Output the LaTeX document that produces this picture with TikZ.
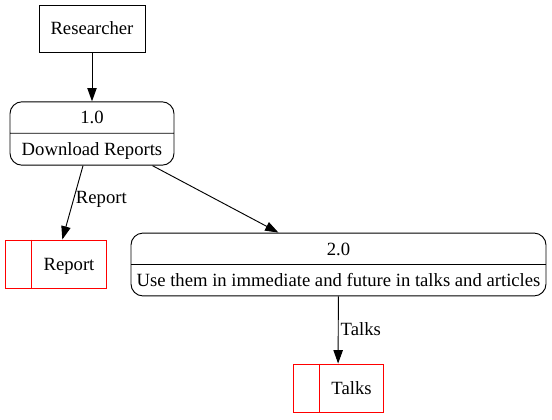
\documentclass[tikz,border=0pt]{standalone}
\usepackage{fontspec}
\setmainfont{Liberation Serif}
\usepackage{tikz}
\usetikzlibrary{shapes.multipart,arrows.meta}

\newcommand{\boxstrut}{\rule[-2.6pt]{0pt}{14.6pt}}

\begin{document}
\begin{tikzpicture}[x=0.75pt,y=-0.75pt,line width=0.7pt,
    font=\fontsize{14}{16}\selectfont,
    entity/.style={draw,minimum width=79.5pt,minimum height=35.25pt},
    process/.style={draw,rectangle split,rectangle split parts=2,
        rounded corners=9pt,inner ysep=4.14pt,minimum width=#1},
    store/.style={draw=red,inner xsep=0pt,minimum height=36pt,
        text height=9.5pt,text depth=0pt,minimum width=#1},
    flow/.style={-{Triangle[length=10pt,width=7pt]}},
    lbl/.style={right,inner sep=1.5pt}]
    \useasboundingbox (0,0) rectangle (552,419);

% source
    \node[entity] (res) at (92,28.5) {Researcher};
    % processes
    \node[process=123pt] (p1) at (92,133.5)
        {\boxstrut 1.0 \nodepart{two}\boxstrut Download Reports};
    \node[process=311.25pt] (p2) at (338.5,264.5)
        {\boxstrut 2.0 \nodepart{two}\boxstrut Use them in immediate and future in talks and articles};
    % data stores
    \node[store=75.75pt] (rep) at (55.5,264)
        {\hspace*{20.25pt}\makebox[55.5pt]{Report}};
    \node[store=67.5pt] (talks) at (338,388)
        {\hspace*{20.25pt}\makebox[47.25pt]{Talks}};
    \draw[red] ([xshift=20.25pt]rep.north west) -- ([xshift=20.25pt]rep.south west);
    \draw[red] ([xshift=20.25pt]talks.north west) -- ([xshift=20.25pt]talks.south west);
    % flows
    \draw[flow] (res) -- (p1);
    \draw[flow] (p1) -- node[lbl,pos=0.46] {Report} (rep);
    \draw[flow] (p1) -- (p2);
    \draw[flow] (p2) -- node[lbl,pos=0.49] {Talks} (talks);
    \end{tikzpicture}
\end{document}
